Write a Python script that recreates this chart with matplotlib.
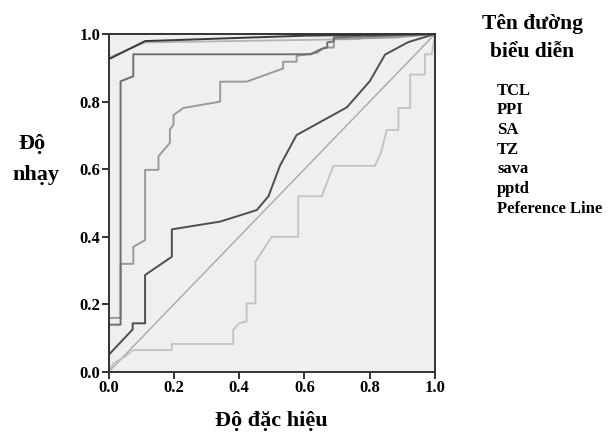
import matplotlib.pyplot as plt

# ROC curves (1 - specificity on x, sensitivity on y)
tcl_x = [0, 0, 0.112, 0.6, 1.0]
tcl_y = [0, 0.925, 0.979, 0.995, 1.0]

ppi_x = [0, 0, 0.037, 0.037, 0.076, 0.076, 0.62, 0.65, 0.67, 0.67, 0.69, 0.69, 1.0]
ppi_y = [0, 0.14, 0.14, 0.86, 0.875, 0.94, 0.94, 0.955, 0.96, 0.975, 0.978, 0.99, 1.0]

sa_x = [0, 0, 0.037, 0.037, 0.076, 0.076, 0.112, 0.112, 0.153, 0.153, 0.188, 0.188,
        0.199, 0.199, 0.229, 0.342, 0.342, 0.423, 0.535, 0.535, 0.576, 0.576, 0.64,
        0.66, 0.69, 0.69, 0.88, 1.0]
sa_y = [0, 0.16, 0.16, 0.32, 0.32, 0.37, 0.39, 0.598, 0.598, 0.638, 0.678, 0.717,
        0.732, 0.76, 0.781, 0.80, 0.859, 0.859, 0.898, 0.918, 0.918, 0.935, 0.945,
        0.96, 0.96, 0.985, 0.99, 1.0]

tz_x = [0, 0, 0.074, 0.074, 0.112, 0.112, 0.194, 0.194, 0.342, 0.454, 0.49, 0.525,
        0.576, 0.73, 0.80, 0.847, 0.918, 1.0]
tz_y = [0, 0.05, 0.126, 0.144, 0.144, 0.287, 0.341, 0.422, 0.445, 0.479, 0.52, 0.61,
        0.701, 0.783, 0.86, 0.939, 0.976, 1.0]

sava_x = [0, 0.015, 0.05, 0.076, 0.194, 0.194, 0.382, 0.382, 0.40, 0.423, 0.423, 0.45,
          0.45, 0.50, 0.581, 0.581, 0.653, 0.689, 0.816, 0.835, 0.852, 0.888, 0.888,
          0.924, 0.924, 0.969, 0.969, 0.99, 1.0]
sava_y = [0, 0.026, 0.045, 0.065, 0.065, 0.083, 0.083, 0.124, 0.144, 0.15, 0.203, 0.203,
          0.326, 0.40, 0.40, 0.52, 0.52, 0.61, 0.61, 0.65, 0.716, 0.716, 0.781,
          0.781, 0.88, 0.88, 0.94, 0.94, 1.0]

pptd_x = [0, 0, 0.112, 0.77, 0.77, 0.883, 0.883, 1.0]
pptd_y = [0, 0.93, 0.975, 0.985, 0.992, 0.992, 1.0, 1.0]

ref_x = [0, 1]
ref_y = [0, 1]

legend_title = ["Tên đường", "biểu diễn"]
legend_names = ["TCL", "PPI", "SA", "TZ", "sava", "pptd", "Peference Line"]
ticks = [0.0, 0.2, 0.4, 0.6, 0.8, 1.0]

plt.rcParams['font.family'] = ['Liberation Serif', 'DejaVu Serif']
plt.rcParams['font.weight'] = 'bold'

fig = plt.figure(figsize=(6.1, 4.32), dpi=100)
ax = fig.add_axes([108.5 / 610, 1 - 372 / 432, 326.5 / 610, 338 / 432])
ax.set_facecolor('#efefef')

ax.plot(ref_x, ref_y, color='#a8a8a8', lw=1.0)
ax.plot(sava_x, sava_y, color='#c2c2c2', lw=1.3)
ax.plot(pptd_x, pptd_y, color='#b4b4b4', lw=1.3)
ax.plot(sa_x, sa_y, color='#9a9a9a', lw=1.4)
ax.plot(tz_x, tz_y, color='#4e4e4e', lw=1.4)
ax.plot(ppi_x, ppi_y, color='#6e6e6e', lw=1.4)
ax.plot(tcl_x, tcl_y, color='#3a3a3a', lw=1.4)

ax.set_xlim(0, 1)
ax.set_ylim(0, 1)
ax.set_xticks(ticks)
ax.set_yticks(ticks)
ax.set_xticklabels(['%.1f' % t for t in ticks], fontsize=12, fontweight='bold')
ax.set_yticklabels(['%.1f' % t for t in ticks], fontsize=12, fontweight='bold')
ax.tick_params(direction='out', length=5, width=1.3, color='#222222', pad=1)
for s in ax.spines.values():
    s.set_linewidth(1.4)
    s.set_color('#333333')

fig.text(271.75 / 610, 1 - 426 / 432, "Độ đặc hiệu", ha='center', va='baseline',
         fontsize=16, fontweight='bold')
fig.text(32 / 610, 1 - 149 / 432, "Độ", ha='center', va='baseline',
         fontsize=16, fontweight='bold')
fig.text(36 / 610, 1 - 180 / 432, "nhạy", ha='center', va='baseline',
         fontsize=16, fontweight='bold')

fig.text(532 / 610, 1 - 29 / 432, legend_title[0], ha='center', va='baseline',
         fontsize=15.5, fontweight='bold')
fig.text(532 / 610, 1 - 57 / 432, legend_title[1], ha='center', va='baseline',
         fontsize=15.5, fontweight='bold')
baselines = [95, 114.5, 134, 153.5, 173, 193, 213]
for name, b in zip(legend_names, baselines):
    fig.text(497 / 610, 1 - b / 432, name, ha='left', va='baseline',
             fontsize=12, fontweight='bold')

fig.savefig('out.png', dpi=100)
